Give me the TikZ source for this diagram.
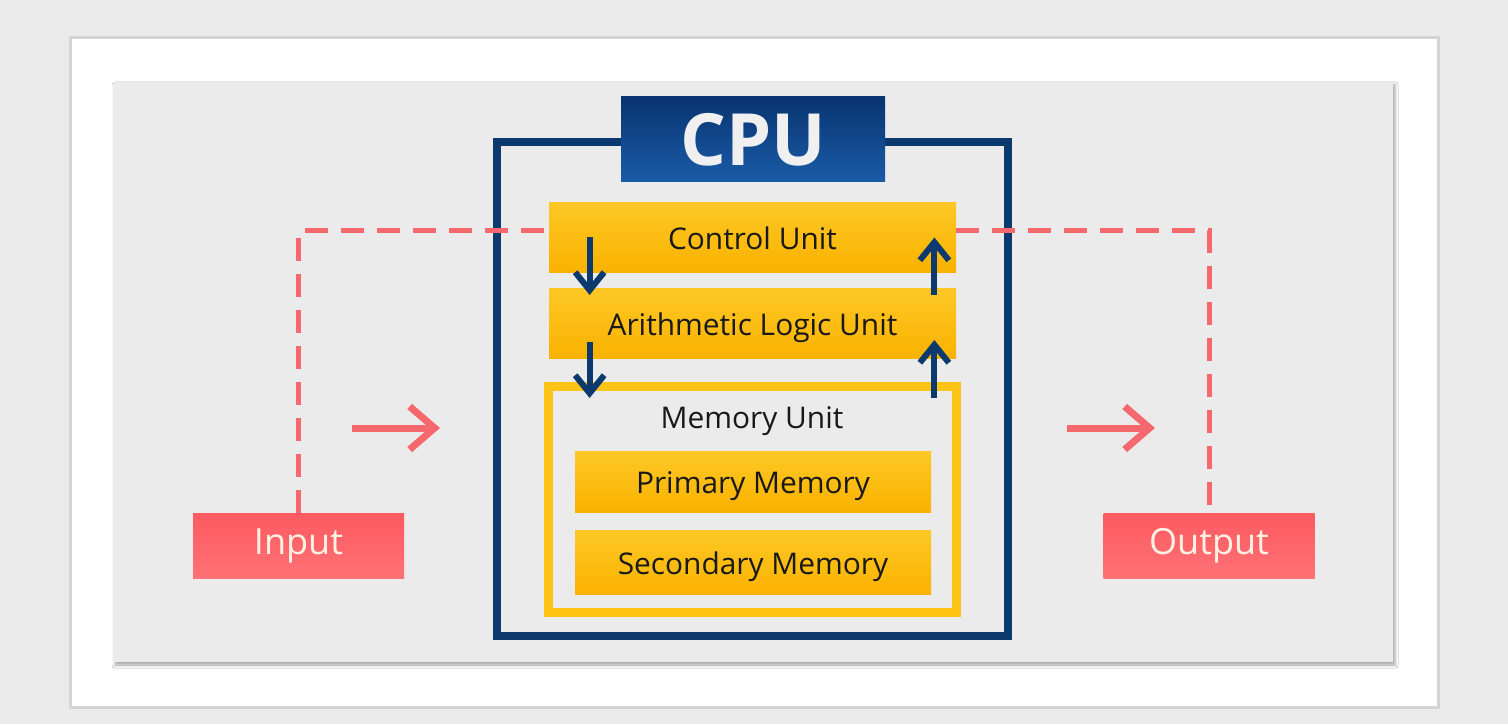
\documentclass[tikz,border=0pt]{standalone}
\usepackage{fontspec}
\setmainfont{Open Sans}
\usetikzlibrary{arrows.meta, positioning, shadows.blur, calc}

\definecolor{pagegray}{RGB}{235,235,235}
\definecolor{panelline}{RGB}{212,212,212}
\definecolor{cpunavy}{RGB}{12,58,110}
\definecolor{titletop}{RGB}{8,52,112}
\definecolor{titlebot}{RGB}{26,92,168}
\definecolor{titletext}{RGB}{240,240,240}
\definecolor{unittop}{RGB}{253,200,38}
\definecolor{unitbot}{RGB}{250,178,0}
\definecolor{memyellow}{RGB}{253,196,22}
\definecolor{inktext}{RGB}{25,25,25}
\definecolor{iotop}{RGB}{252,90,96}
\definecolor{iobot}{RGB}{255,114,118}
\definecolor{iotext}{RGB}{255,242,228}
\definecolor{buspink}{RGB}{245,105,110}

\tikzset{
  unitbox/.style={
    rectangle, inner sep=0pt,
    minimum width=8.14cm, minimum height=1.38cm,
    text height=0.48cm, text depth=0cm,
    text centered, font=\fontsize{17}{20}\selectfont,
    top color=unittop, bottom color=unitbot, text=inktext
  },
  iobox/.style={
    rectangle, inner sep=0pt,
    minimum width=4.22cm, minimum height=1.30cm,
    text centered, font=\fontsize{20.5}{24}\selectfont,
    top color=iotop, bottom color=iobot, text=iotext
  },
  busline/.style={line width=0.1cm, color=buspink, dash pattern=on 0.46cm off 0.26cm},
  flowarrow/.style={-{Straight Barb[length=0.5cm, width=0.86cm]}, line width=0.14cm, color=buspink},
  cuarrow/.style={-{Straight Barb[length=0.36cm, width=0.58cm]}, line width=0.12cm, color=cpunavy},
}

\begin{document}
\begin{tikzpicture}
      \useasboundingbox (0,0) rectangle (30.16,14.48);
      \fill[pagegray] (0,0) rectangle (30.16,14.48);
      \draw[panelline, line width=0.06cm, fill=white] (1.40,0.34) rectangle (28.76,13.72);
      \fill[pagegray, blur shadow={shadow xshift=0.04cm, shadow yshift=-0.06cm, shadow blur radius=0.06cm, shadow opacity=35}] (2.26,1.24) rectangle (27.86,12.84);
      % cpu frame and title
      \node[draw=cpunavy, line width=0.16cm, minimum width=10.22cm, minimum height=9.88cm](cpu) at (15.05,6.70) {};
      \node[rectangle, top color=titletop, bottom color=titlebot, minimum width=5.28cm, minimum height=1.70cm, text=titletext, font=\fontsize{41}{44}\selectfont\bfseries](cputitle) at (15.06,11.69) {CPU};
      % units
      \node[unitbox](cu) at (15.05,9.73) {Control Unit};
      \node[unitbox, minimum height=1.40cm](alu) at (15.05,8.02) {Arithmetic Logic Unit};
      \node[draw=memyellow, line width=0.18cm, minimum width=8.16cm, minimum height=4.52cm](mem) at (15.04,4.50) {};
      \node[font=\fontsize{17}{20}\selectfont, text=inktext](memlbl) at (15.04,6.06) {Memory Unit};
      \node[unitbox, minimum width=7.12cm, minimum height=1.22cm](pm) at (15.06,4.85) {Primary Memory};
      \node[unitbox, minimum width=7.12cm, minimum height=1.28cm](sm) at (15.06,3.24) {Secondary Memory};
      % input / output
      \node[iobox](inp) at (5.97,3.57) {Input};
      \node[iobox](outp) at (24.18,3.57) {Output};
      \draw[busline](inp.north) |- ([yshift=0.13cm]cu.west);
      \draw[busline]([yshift=0.13cm]cu.east) -| (outp.north);
      \coordinate (ina) at (7.04,5.92);
      \coordinate (inb) at (8.80,5.92);
      \coordinate (outa) at (21.34,5.92);
      \coordinate (outb) at (23.10,5.92);
      \draw[flowarrow](ina) -- (inb);
      \draw[flowarrow](outa) -- (outb);
      % data paths inside the cpu
      \draw[cuarrow]($(cu.west)+(0.82,0)$) -- ($(alu.west)+(0.82,0.56)$);
      \draw[cuarrow]($(alu.west)+(0.82,-0.38)$) -- ($(alu.west)+(0.82,-1.50)$);
      \draw[cuarrow]($(alu.east)+(-0.44,0.56)$) -- ($(cu.east)+(-0.44,0)$);
      \draw[cuarrow]($(alu.east)+(-0.44,-1.50)$) -- ($(alu.east)+(-0.44,-0.34)$);
    \end{tikzpicture}
\end{document}
